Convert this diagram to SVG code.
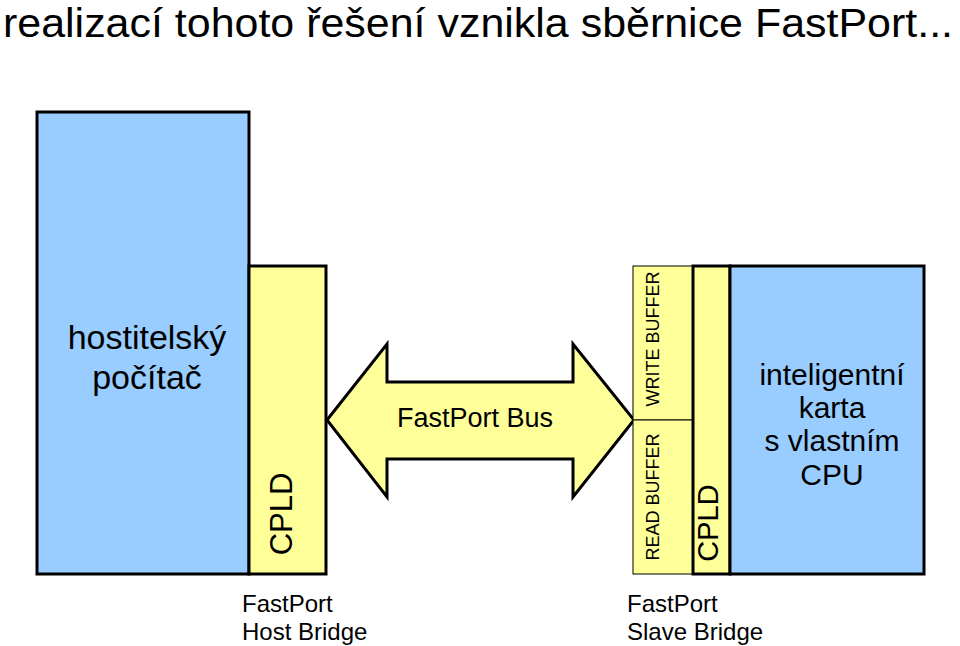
<svg xmlns="http://www.w3.org/2000/svg" width="960" height="646" viewBox="0 0 960 646">
<style>
text{font-family:"Liberation Sans",Arial,sans-serif;fill:#000}
.blue{fill:#99CCFF;stroke:#000;stroke-width:3}
.yel{fill:#FFFF99;stroke:#000;stroke-width:3}
.thin{fill:#FFFF99;stroke:#000;stroke-width:1}
</style>
<rect width="960" height="646" fill="#fff"/>
<text x="3" y="37" font-size="40" textLength="950" lengthAdjust="spacingAndGlyphs">realizací tohoto řešení vznikla sběrnice FastPort...</text>
<g id="host">
<rect class="blue" x="37" y="112" width="212" height="462"/>
<text x="147" y="349" font-size="34" text-anchor="middle">hostitelský</text>
<text x="147" y="389" font-size="34" text-anchor="middle">počítač</text>
</g>
<g id="cpld-host">
<rect class="yel" x="249" y="266" width="77" height="308"/>
<text transform="translate(292,514) rotate(-90)" font-size="31" text-anchor="middle">CPLD</text>
</g>
<g id="connectors">
<path class="yel" d="M327,420 L387,344 L387,382 L573,382 L573,344 L634,420 L573,497 L573,459 L387,459 L387,497 Z"/>
<text x="475" y="427" font-size="27" text-anchor="middle">FastPort Bus</text>
</g>
<g id="write-buffer">
<rect class="thin" x="633" y="266" width="60" height="154"/>
<text transform="translate(659,339) rotate(-90)" font-size="18" text-anchor="middle">WRITE BUFFER</text>
</g>
<g id="read-buffer">
<rect class="thin" x="633" y="420" width="60" height="154"/>
<text transform="translate(659,497) rotate(-90)" font-size="18" text-anchor="middle">READ BUFFER</text>
</g>
<g id="cpld-slave">
<rect class="yel" x="693" y="266" width="37" height="308" stroke-width="2"/>
<text transform="translate(718,523) rotate(-90)" font-size="29" text-anchor="middle">CPLD</text>
</g>
<g id="card">
<rect class="blue" x="730" y="266" width="194" height="308"/>
<text x="832" y="385" font-size="30" text-anchor="middle">inteligentní</text>
<text x="832" y="418" font-size="30" text-anchor="middle">karta</text>
<text x="832" y="451" font-size="30" text-anchor="middle">s vlastním</text>
<text x="832" y="485" font-size="30" text-anchor="middle">CPU</text>
</g>
<g id="host-bridge-label">
<text x="242" y="612" font-size="24">FastPort</text>
<text x="242" y="640" font-size="24">Host Bridge</text>
</g>
<g id="slave-bridge-label">
<text x="627" y="612" font-size="24">FastPort</text>
<text x="627" y="640" font-size="24">Slave Bridge</text>
</g>
</svg>
